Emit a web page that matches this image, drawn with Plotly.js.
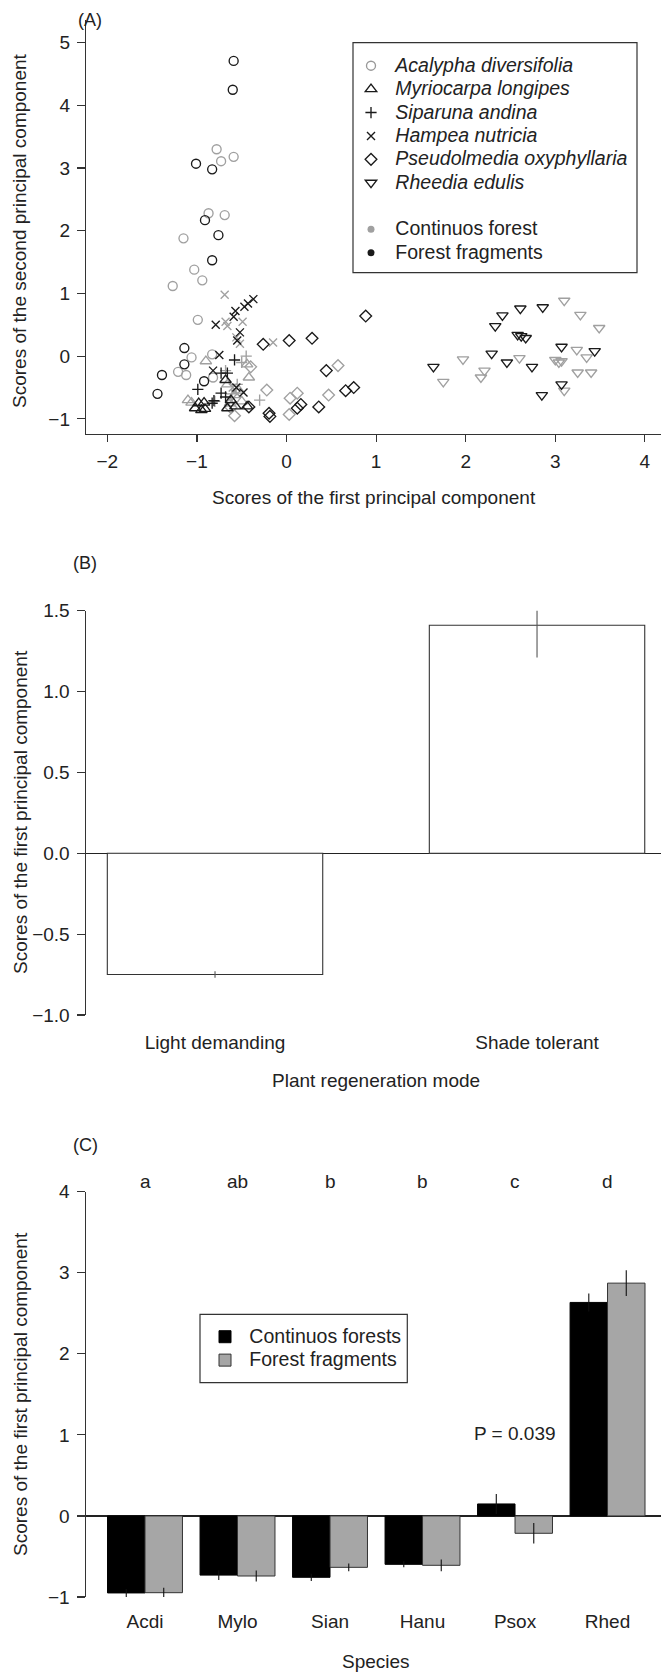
<!DOCTYPE html>
<html><head><meta charset="utf-8">
<script src="https://cdn.plot.ly/plotly-3.0.1.min.js"></script>
<style>html,body{margin:0;padding:0;background:#fff}</style>
</head><body><div id="chart" style="width:661px;height:1675px"></div>
<script>
// ---------- Panel A data (PCA scores) ----------
const speciesNames = ['Acalypha diversifolia','Myriocarpa longipes','Siparuna andina','Hampea nutricia','Pseudolmedia oxyphyllaria','Rheedia edulis'];
const forestNamesA = ['Continuos forest','Forest fragments'];

const acdiCF_x = [-0.78,-0.73,-0.59,-0.87,-0.69,-1.15,-1.03,-0.94,-1.27,-0.99,-1.06,-0.83,-1.21,-1.12,-0.82];
const acdiCF_y = [3.30,3.11,3.18,2.28,2.25,1.88,1.38,1.21,1.12,0.58,-0.02,0.03,-0.25,-0.30,-0.34];
const acdiFF_x = [-0.59,-0.60,-1.01,-0.83,-0.91,-0.76,-0.83,-1.14,-1.14,-1.39,-1.44,-0.92];
const acdiFF_y = [4.71,4.25,3.07,2.98,2.17,1.93,1.53,0.13,-0.13,-0.30,-0.60,-0.40];

const myloCF_x = [-0.90,-1.10,-0.42,-0.44,-0.58,-0.63,-0.53,-1.06,-0.66,-0.50];
const myloCF_y = [-0.08,-0.70,-0.34,-0.13,-0.62,-0.75,-0.55,-0.74,-0.45,-0.72];
const myloFF_x = [-1.02,-0.91,-0.92,-0.95,-0.66,-0.57,-0.44,-0.68,-0.62,-0.98];
const myloFF_y = [-0.83,-0.84,-0.74,-0.86,-0.83,-0.80,-0.80,-0.38,-0.70,-0.75];

const sianCF_x = [-0.45,-0.68,-0.30,-0.55,-0.61,-0.80,-0.50];
const sianCF_y = [0.00,-0.23,-0.70,-0.45,-0.60,-0.72,-0.10];
const sianFF_x = [-0.58,-0.73,-0.66,-0.99,-0.73,-0.81,-0.83,-0.68];
const sianFF_y = [-0.06,-0.27,-0.27,-0.53,-0.59,-0.71,-0.75,-0.65];

const hanuCF_x = [-0.69,-0.68,-0.49,-0.15,-0.56,-0.55,-0.60,-0.62,-0.66,-0.52];
const hanuCF_y = [0.98,0.55,0.55,0.22,0.30,-0.60,-0.50,-0.72,0.48,0.20];
const hanuFF_x = [-0.37,-0.43,-0.47,-0.57,-0.59,-0.79,-0.52,-0.55,-0.75,-0.82,-0.48,-0.56];
const hanuFF_y = [0.91,0.84,0.79,0.72,0.63,0.50,0.38,0.25,0.02,-0.23,-0.58,-0.50];

const psoxCF_x = [-0.40,-0.22,0.04,0.12,0.03,0.47,0.575,-0.58,-0.62];
const psoxCF_y = [-0.17,-0.54,-0.67,-0.59,-0.93,-0.62,-0.15,-0.95,-0.82];
const psoxFF_x = [-0.26,0.03,0.285,0.884,0.444,0.66,0.75,0.36,0.16,0.12,-0.195,-0.185,-0.42];
const psoxFF_y = [0.19,0.25,0.285,0.64,-0.23,-0.55,-0.50,-0.81,-0.77,-0.83,-0.91,-0.96,-0.81];

const rhedCF_x = [1.75,1.97,2.21,2.17,2.60,3.00,3.04,3.24,3.35,3.25,3.40,3.10,3.10,3.28,3.49,3.07];
const rhedCF_y = [-0.41,-0.05,-0.23,-0.34,-0.03,-0.06,-0.10,0.10,-0.02,-0.26,-0.26,-0.55,0.885,0.66,0.45,-0.08];
const rhedFF_x = [1.64,2.29,2.46,2.74,3.07,3.44,3.07,2.85,2.61,2.86,2.41,2.33,2.58,2.62,2.67];
const rhedFF_y = [-0.17,0.04,-0.10,-0.17,0.15,0.08,-0.45,-0.62,0.76,0.78,0.65,0.48,0.34,0.32,0.29];

const xTicksA = [-2,-1,0,1,2,3,4];
const yTicksA = [-1,0,1,2,3,4,5];

// ---------- Panel B data ----------
const regenModes = ['Light demanding','Shade tolerant'];
const regenMeans = [-0.75, 1.41];
const regenErrPlus = [0.02, 0.12];
const regenErrMinus = [0.02, 0.20];
const yTicksB = [-1.0,-0.5,0.0,0.5,1.0,1.5];

// ---------- Panel C data ----------
const speciesCodes = ['Acdi','Mylo','Sian','Hanu','Psox','Rhed'];
const groupLetters = ['a','ab','b','b','c','d'];
const forestNamesC = ['Continuos forests','Forest fragments'];
const cfMeans = [-0.95,-0.73,-0.757,-0.597,0.148,2.634];
const cfErr   = [0.05,0.06,0.045,0.037,0.124,0.111];
const ffMeans = [-0.947,-0.741,-0.634,-0.609,-0.214,2.872];
const ffErr   = [0.06,0.067,0.048,0.072,0.127,0.159];
const pLabel = 'P = 0.039';
const yTicksC = [-1,0,1,2,3,4];

// ---------- styles ----------
const GRAY = '#a0a0a0', BLACK = '#1a1a1a';
const FONT = 'Liberation Sans, Arial, Helvetica, sans-serif';
const symStyle = [
  {symbol:'circle-open', size:9},
  {symbol:'triangle-up-open', size:10},
  {symbol:'cross-thin-open', size:8},
  {symbol:'x-thin-open', size:8},
  {symbol:'diamond-open', size:9},
  {symbol:'triangle-down-open', size:10}
];
const cfSets = [[acdiCF_x,acdiCF_y],[myloCF_x,myloCF_y],[sianCF_x,sianCF_y],[hanuCF_x,hanuCF_y],[psoxCF_x,psoxCF_y],[rhedCF_x,rhedCF_y]];
const ffSets = [[acdiFF_x,acdiFF_y],[myloFF_x,myloFF_y],[sianFF_x,sianFF_y],[hanuFF_x,hanuFF_y],[psoxFF_x,psoxFF_y],[rhedFF_x,rhedFF_y]];

const traces = [];
function ptTrace(set, i, color){
  return {type:'scatter', mode:'markers', x:set[0], y:set[1], xaxis:'x', yaxis:'y',
    showlegend:false, hoverinfo:'skip', cliponaxis:false,
    marker:{symbol:symStyle[i].symbol, size:symStyle[i].size, color:color, line:{color:color, width:1.35}}};
}
cfSets.forEach((s,i)=>traces.push(ptTrace(s,i,GRAY)));
ffSets.forEach((s,i)=>traces.push(ptTrace(s,i,BLACK)));

// legend entries for panel A
const NB = '\u00a0';
const LSZ = 19.5;
speciesNames.forEach((nm,i)=>{
  const c = i===0 ? '#999' : BLACK;
  traces.push({type:'scatter', mode:'markers', x:[null], y:[null], xaxis:'x', yaxis:'y',
    name: NB + '<span style="font-size:' + LSZ + 'px"><i>' + nm + '</i></span>',
    legend:'legend', legendgroup:'species', showlegend:true, hoverinfo:'skip',
    marker:{symbol:symStyle[i].symbol, size:symStyle[i].size, color:c, line:{color:c, width:1.35}}});
});
forestNamesA.forEach((nm,i)=>{
  const c = i===0 ? GRAY : BLACK;
  traces.push({type:'scatter', mode:'markers', x:[null], y:[null], xaxis:'x', yaxis:'y',
    name: NB + '<span style="font-size:' + LSZ + 'px">' + nm + '</span>',
    legend:'legend', legendgroup:'forest', showlegend:true, hoverinfo:'skip',
    marker:{symbol:'circle', size:7, color:c}});
});

// Panel B
traces.push({type:'bar', x:regenModes, y:regenMeans, xaxis:'x2', yaxis:'y2', width:0.669,
  showlegend:false, hoverinfo:'skip', cliponaxis:false,
  marker:{color:'#ffffff', line:{color:'#333', width:1.1}},
  error_y:{type:'data', symmetric:false, array:regenErrPlus, arrayminus:regenErrMinus, color:'#555', thickness:1.1, width:0}});

// Panel C
traces.push({type:'bar', x:speciesCodes, y:cfMeans, xaxis:'x3', yaxis:'y3', offset:-0.405, width:0.405,
  name: NB + '<span style="font-size:' + LSZ + 'px">' + forestNamesC[0] + '</span>', legend:'legend2', hoverinfo:'skip',
  marker:{color:'#000', line:{color:'#000', width:1}},
  error_y:{type:'data', array:cfErr, color:'#111', thickness:1.1, width:0}});
traces.push({type:'bar', x:speciesCodes, y:ffMeans, xaxis:'x3', yaxis:'y3', offset:0, width:0.405,
  name: NB + '<span style="font-size:' + LSZ + 'px">' + forestNamesC[1] + '</span>', legend:'legend2', hoverinfo:'skip',
  marker:{color:'#a6a6a6', line:{color:'#333', width:1}},
  error_y:{type:'data', array:ffErr, color:'#111', thickness:1.1, width:0}});

const W = 661, H = 1675;
const px = v => v / W, py = v => 1 - v / H;

const tickFont = {family:FONT, size:19, color:'#222'};
const yBase = {showgrid:false, zeroline:false, showline:true, linecolor:'#333', linewidth:1.2,
  ticks:'outside', ticklen:8, tickcolor:'#333', tickwidth:1.2, tickfont:tickFont, fixedrange:true, ticklabelstandoff:3};

const annotations = [];
function ann(text, x, y, opts){
  annotations.push(Object.assign({text:text, x:x, y:y, xref:'paper', yref:'paper', showarrow:false,
    xanchor:'center', yanchor:'middle', font:{family:FONT, size:19, color:'#222'}}, opts||{}));
}
ann('(A)', px(89.7), py(20), {font:{family:FONT, size:18, color:'#222'}});
ann('(B)', px(85.5), py(563.3), {font:{family:FONT, size:18, color:'#222'}});
ann('(C)', px(85.5), py(1145), {font:{family:FONT, size:18, color:'#222'}});
ann('Scores of the first principal component', px(373.5), py(497));
ann('Scores of the second principal component', px(20), py(231), {textangle:-90});
ann('Plant regeneration mode', px(376), py(1080));
ann('Scores of the first principal component', px(20), py(812), {textangle:-90});
ann('Species', px(376), py(1661.7));
ann('Scores of the first principal component', px(20), py(1394), {textangle:-90});
groupLetters.forEach((l,i)=>{
  annotations.push({text:l, x:speciesCodes[i], y:py(1181.7), xref:'x3', yref:'paper', showarrow:false,
    xanchor:'center', yanchor:'middle', font:{family:FONT, size:19, color:'#222'}});
});
annotations.push({text:pLabel, x:speciesCodes[4], y:py(1433.3), xref:'x3', yref:'paper', showarrow:false,
  xanchor:'center', yanchor:'middle', font:{family:FONT, size:19, color:'#222'}});

const layout = {
  width:W, height:H, margin:{l:0,r:0,t:0,b:0},
  paper_bgcolor:'#fff', plot_bgcolor:'rgba(0,0,0,0)',
  font:{family:FONT, size:19, color:'#222'},
  showlegend:true, hovermode:false,
  xaxis:{domain:[px(86),1], range:[-2.238,4.18], tickvals:xTicksA, showgrid:false, zeroline:false,
    showline:true, linecolor:'#333', linewidth:1.2, ticks:'outside', ticklen:7, tickcolor:'#333', tickwidth:1.2,
    tickfont:tickFont, anchor:'y', fixedrange:true, ticklabelstandoff:3},
  yaxis:Object.assign({}, yBase, {domain:[py(434), py(20)], range:[-1.241,5.362], tickvals:yTicksA, anchor:'x'}),
  xaxis2:{domain:[px(85.7),1], type:'category', range:[-0.4016,1.385], showgrid:false, zeroline:false,
    showline:false, ticks:'', tickfont:tickFont, anchor:'y2', fixedrange:true, ticklabelstandoff:14},
  yaxis2:Object.assign({}, yBase, {domain:[py(1015), py(610.7)], range:[-1,1.5], tickvals:yTicksB, tickformat:'.1f',
    zeroline:true, zerolinecolor:'#222', zerolinewidth:1.2, anchor:'x2'}),
  xaxis3:{domain:[px(85.7),1], type:'category', range:[-0.641,5.578], showgrid:false, zeroline:false,
    showline:false, ticks:'', tickfont:tickFont, anchor:'y3', fixedrange:true, ticklabelstandoff:11},
  yaxis3:Object.assign({}, yBase, {domain:[py(1597), py(1191.7)], range:[-1,4], tickvals:yTicksC,
    zeroline:true, zerolinecolor:'#222', zerolinewidth:1.2, anchor:'x3'}),
  legend:{x:px(351), xanchor:'left', y:py(49), yanchor:'top', bgcolor:'rgba(0,0,0,0)', borderwidth:0,
    font:{family:FONT, size:15.7, color:'#222'}, tracegroupgap:23.2, traceorder:'grouped', itemclick:false, itemdoubleclick:false},
  legend2:{x:px(205), xanchor:'left', y:py(1320), yanchor:'top', bgcolor:'rgba(0,0,0,0)', borderwidth:0,
    font:{family:FONT, size:15.7, color:'#222'}, itemclick:false, itemdoubleclick:false},
  shapes:[
    {type:'rect', xref:'paper', yref:'paper', x0:px(353), x1:px(637), y0:py(272.7), y1:py(42.7), line:{color:'#333', width:1.2}},
    {type:'rect', xref:'paper', yref:'paper', x0:px(200), x1:px(407.3), y0:py(1382.7), y1:py(1314.3), line:{color:'#333', width:1.2}}
  ],
  annotations:annotations
};

Plotly.newPlot('chart', traces, layout, {staticPlot:true, displayModeBar:false});
</script></body></html>
